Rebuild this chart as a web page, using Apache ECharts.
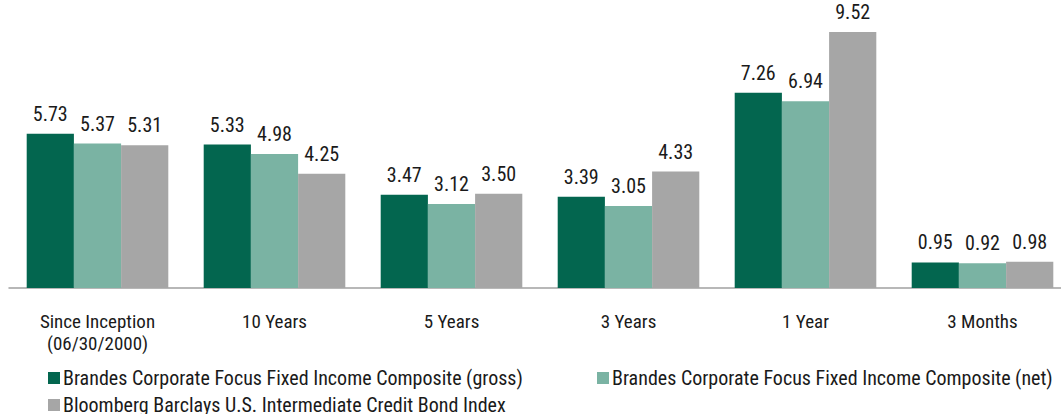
<!DOCTYPE html>
<html>
<head>
<meta charset="utf-8">
<script src="https://cdn.jsdelivr.net/npm/echarts@6/dist/echarts.min.js"></script>
<style>
  html, body { margin: 0; padding: 0; background: #fff; }
  #chart { width: 1061px; height: 414px; }
  /* the reference uses a condensed face; Roboto has a width axis */
  #chart text { font-stretch: condensed !important; }
</style>
</head>
<body>
<div id="chart"></div>
<script>
var periods = ['Since Inception\n(06/30/2000)', '10 Years', '5 Years', '3 Years', '1 Year', '3 Months'];
var seriesNames = [
  'Brandes Corporate Focus Fixed Income Composite (gross)',
  'Brandes Corporate Focus Fixed Income Composite (net)',
  'Bloomberg Barclays U.S. Intermediate Credit Bond Index'
];
var grossValues = [5.73, 5.33, 3.47, 3.39, 7.26, 0.95];
var netValues = [5.37, 4.98, 3.12, 3.05, 6.94, 0.92];
var indexValues = [5.31, 4.25, 3.50, 4.33, 9.52, 0.98];
var colors = ['#03664f', '#7ab3a3', '#a6a6a6'];

var font = 'Roboto, sans-serif';

var myChart = echarts.init(document.getElementById('chart'), null, {renderer: 'svg'});

function makeSeries (name, values, color) {
  return {
    name: name,
    type: 'bar',
    data: values,
    barGap: 0,
    barCategoryGap: '20%',
    itemStyle: { color: color },
    label: {
      show: true,
      position: 'top',
      distance: 10,
      color: '#1a1a1a',
      fontFamily: font,
      fontSize: 20,
      formatter: function (p) {
        return p.value.toFixed(2);
      }
    }
  };
}

function makeLegend (name, left, top) {
  return {
    data: [name],
    left: left,
    top: top,
    itemWidth: 12,
    itemHeight: 12,
    itemGap: 0,
    icon: 'rect',
    padding: 0,
    selectedMode: false,
    textStyle: {
      fontFamily: font,
      fontSize: 20,
      color: '#1a1a1a',
      padding: [0, 0, 0, -2]
    }
  };
}

var option = {
  animation: false,
  backgroundColor: '#fff',
  color: colors,
  grid: {
    left: 9,
    top: 19,
    width: 1062,
    height: 269,
    outerBoundsMode: 'none'
  },
  legend: [
    makeLegend(seriesNames[0], 48, 368),
    makeLegend(seriesNames[1], 597, 368),
    makeLegend(seriesNames[2], 48, 395)
  ],
  xAxis: {
    type: 'category',
    data: periods,
    axisTick: { show: false },
    axisLine: { lineStyle: { color: '#a0a0a0', width: 1.5 } },
    axisLabel: {
      interval: 0,
      margin: 22,
      fontFamily: font,
      fontSize: 19,
      color: '#1a1a1a',
      lineHeight: 22
    }
  },
  yAxis: {
    type: 'value',
    min: 0,
    max: 10,
    show: false,
    splitLine: { show: false }
  },
  series: [
    makeSeries(seriesNames[0], grossValues, colors[0]),
    makeSeries(seriesNames[1], netValues, colors[1]),
    makeSeries(seriesNames[2], indexValues, colors[2])
  ]
};

myChart.setOption(option);
</script>
</body>
</html>
